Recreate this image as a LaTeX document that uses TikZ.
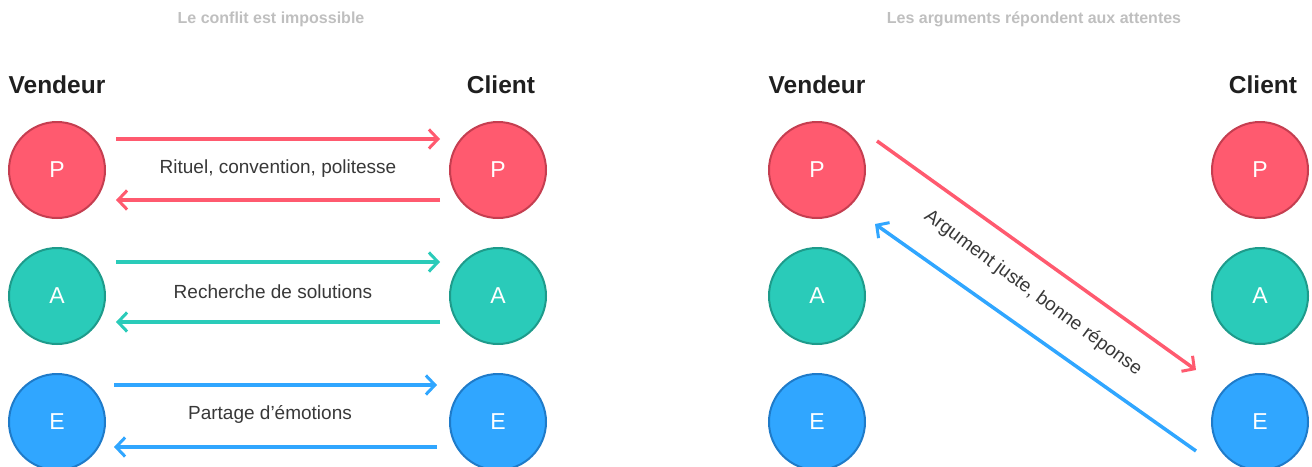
\documentclass[tikz,border=0pt]{standalone}
\usepackage{fontspec}
\setmainfont{Liberation Sans}
\usepackage{tikz}
\usetikzlibrary{calc,arrows.meta,positioning}

\definecolor{pred}{HTML}{FF5A6F}
\definecolor{predd}{HTML}{C53E50}
\definecolor{agreen}{HTML}{2ACBB9}
\definecolor{agreend}{HTML}{1E9B8B}
\definecolor{eblue}{HTML}{30A6FF}
\definecolor{eblued}{HTML}{1F7BC9}

\tikzset{
  state/.style={circle, minimum size=96pt, inner sep=0pt, line width=2pt, text=white, font=\fontsize{23}{23}\selectfont},
  pstate/.style={state, fill=pred, draw=predd},
  astate/.style={state, fill=agreen, draw=agreend},
  estate/.style={state, fill=eblue, draw=eblued},
  flow/.style={line width=3.5pt, -{Straight Barb[length=9pt,width=19pt,line width=3pt]}},
  head/.style={font=\fontsize{24.5}{24.5}\selectfont\bfseries, text=black!88},
  paneltitle/.style={font=\fontsize{16}{16}\selectfont\bfseries, text=black!25},
  lbl/.style={font=\fontsize{19}{19}\selectfont, text=black!78}
}

\begin{document}
\begin{tikzpicture}[x=1pt,y=-1pt]
            \useasboundingbox (0,0) rectangle (1312,466);
            % panneau gauche
            \node[paneltitle] at (271,19) (t1) {Le conflit est impossible};
            \node[head] at (57,85) (v1) {Vendeur};
            \node[head] at (501,85) (c1) {Client};
            \node[pstate] at (57,170) (vp) {P};
            \node[astate] at (57,296) (va) {A};
            \node[estate] at (57,422) (ve) {E};
            \node[pstate] at (498,170) (cp) {P};
            \node[astate] at (498,296) (ca) {A};
            \node[estate] at (498,422) (ce) {E};
            \draw[flow, pred, shorten <=10pt, shorten >=9pt] ([yshift=31pt]vp.east) -- ([yshift=31pt]cp.west);
            \draw[flow, pred, shorten <=9pt, shorten >=10pt] ([yshift=-30pt]cp.west) -- ([yshift=-30pt]vp.east);
            \node[lbl] at (278,169) (lp) {Rituel, convention, politesse};
            \draw[flow, agreen, shorten <=10pt, shorten >=9pt] ([yshift=34pt]va.east) -- ([yshift=34pt]ca.west);
            \draw[flow, agreen, shorten <=9pt, shorten >=10pt] ([yshift=-26pt]ca.west) -- ([yshift=-26pt]va.east);
            \node[lbl] at (273,292) (la) {Recherche de solutions};
            \draw[flow, eblue, shorten <=8pt, shorten >=12pt] ([yshift=37pt]ve.east) -- ([yshift=37pt]ce.west);
            \draw[flow, eblue, shorten <=12pt, shorten >=8pt] ([yshift=-25pt]ce.west) -- ([yshift=-25pt]ve.east);
            \node[lbl] at (270,414) (le) {Partage d'émotions};
            % panneau droit
            \node[paneltitle] at (1034,19) (t2) {Les arguments répondent aux attentes};
            \node[head] at (817,85) (v2) {Vendeur};
            \node[head] at (1263,85) (c2) {Client};
            \node[pstate] at (817,170) (rvp) {P};
            \node[astate] at (817,296) (rva) {A};
            \node[estate] at (817,422) (rve) {E};
            \node[pstate] at (1260,170) (rcp) {P};
            \node[astate] at (1260,296) (rca) {A};
            \node[estate] at (1260,422) (rce) {E};
            \draw[flow, pred] ($(rvp.center)+(60,-29)$) -- ($(rce.center)+(-64,-52)$);
            \draw[flow, eblue] ($(rce.center)+(-64,29)$) -- ($(rvp.center)+(58,54)$);
            \node[lbl, rotate=-36.5] at (1033,293) (lr) {Argument juste, bonne réponse};
        \end{tikzpicture}
\end{document}
